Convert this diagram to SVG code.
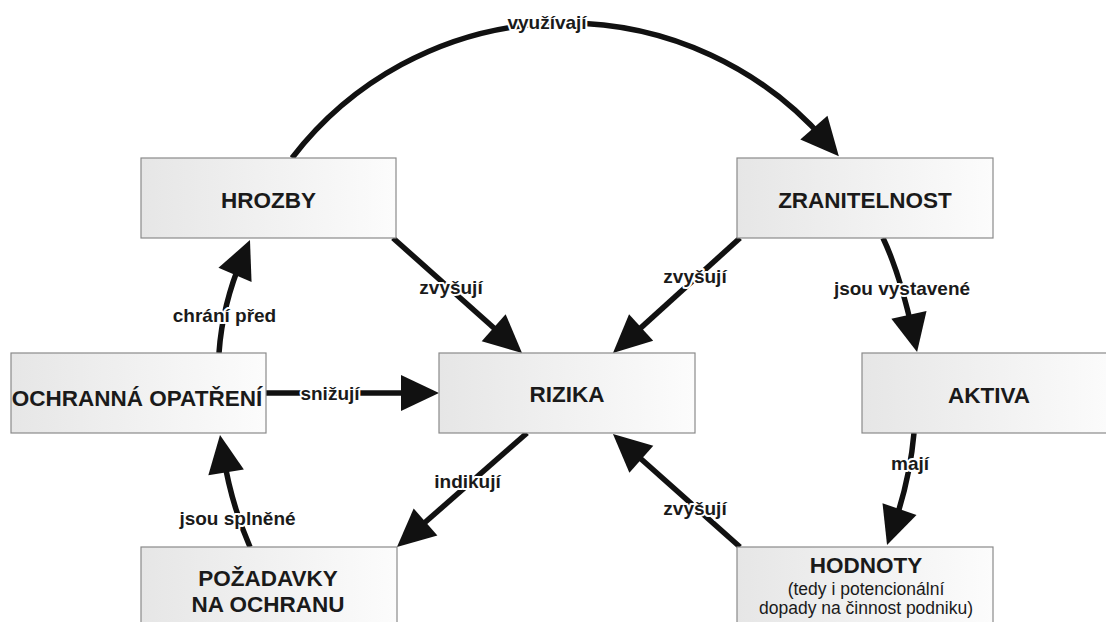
<svg xmlns="http://www.w3.org/2000/svg" width="1106" height="622" viewBox="0 0 1106 622">
  <defs>
    <linearGradient id="boxFill" x1="0" y1="0" x2="1" y2="0">
      <stop offset="0" stop-color="#e6e6e6"/>
      <stop offset="1" stop-color="#fcfcfc"/>
    </linearGradient>
    <marker id="arrow" markerUnits="userSpaceOnUse" markerWidth="40" markerHeight="38" refX="18" refY="18" orient="auto" overflow="visible">
      <path d="M0,0 L38,18 L0,36 Z" fill="#111"/>
    </marker>
    <style>
      .box { fill: url(#boxFill); stroke: #8a8a8a; stroke-width: 1.2; }
      .title { font-family: "Liberation Sans", Arial, sans-serif; font-weight: bold; font-size: 22.5px; fill: #1a1a1a; text-anchor: middle; }
      .sub { font-family: "Liberation Sans", Arial, sans-serif; font-size: 17.5px; fill: #1a1a1a; text-anchor: middle; }
      .link { fill: none; stroke: #111; stroke-width: 5.5; marker-end: url(#arrow); }
      .label { font-family: "Liberation Sans", Arial, sans-serif; font-weight: bold; font-size: 19px; fill: #1a1a1a; text-anchor: middle; stroke: #fff; stroke-width: 4; stroke-linejoin: round; paint-order: stroke fill; }
    </style>
  </defs>

  <rect width="1106" height="622" fill="#fff"/>

  <!-- connectors -->
  <g id="connectors">
    <path class="link" d="M292,158 A345,345 0 0 1 825.7,141.2"/>
    <path class="link" d="M393,238 L507.1,339.7"/>
    <path class="link" d="M740,238 L627.8,339.6"/>
    <path class="link" d="M883,238 Q900,274 912.8,332.4"/>
    <path class="link" d="M219,353 Q222.4,304.4 242.1,258.4"/>
    <path class="link" d="M266,393 L419,393"/>
    <path class="link" d="M527,433 L412,533.8"/>
    <path class="link" d="M250,547 Q231.2,504 223.2,454.7"/>
    <path class="link" d="M740,547 L627.9,447.3"/>
    <path class="link" d="M914,433 Q910,478.9 893.6,526.1"/>
  </g>

  <!-- connector labels -->
  <g id="labels">
    <text class="label" x="547" y="29">využívají</text>
    <text class="label" x="451" y="294">zvyšují</text>
    <text class="label" x="695" y="283">zvyšují</text>
    <text class="label" x="902" y="295">jsou vystavené</text>
    <text class="label" x="224.5" y="322">chrání před</text>
    <text class="label" x="330" y="400">snižují</text>
    <text class="label" x="467.5" y="488">indikují</text>
    <text class="label" x="237.5" y="525">jsou splněné</text>
    <text class="label" x="695" y="515">zvyšují</text>
    <text class="label" x="910" y="470">mají</text>
  </g>

  <!-- nodes -->
  <g id="hrozby">
    <rect class="box" x="141" y="158" width="255" height="80"/>
    <text class="title" x="268.5" y="208">HROZBY</text>
  </g>
  <g id="zranitelnost">
    <rect class="box" x="737" y="158" width="256" height="80"/>
    <text class="title" x="865" y="208">ZRANITELNOST</text>
  </g>
  <g id="ochranna-opatreni">
    <rect class="box" x="11" y="353" width="255" height="80"/>
    <text class="title" x="137" y="406">OCHRANNÁ OPATŘENÍ</text>
  </g>
  <g id="rizika">
    <rect class="box" x="439" y="353" width="256" height="80"/>
    <text class="title" x="567" y="402">RIZIKA</text>
  </g>
  <g id="aktiva">
    <rect class="box" x="862" y="353" width="256" height="80"/>
    <text class="title" x="989" y="403">AKTIVA</text>
  </g>
  <g id="pozadavky">
    <rect class="box" x="141" y="547" width="256" height="90"/>
    <text class="title" x="268" y="585.5">POŽADAVKY</text>
    <text class="title" x="268" y="611.5">NA OCHRANU</text>
  </g>
  <g id="hodnoty">
    <rect class="box" x="737" y="547" width="256" height="90"/>
    <text class="title" x="866" y="572.5">HODNOTY</text>
    <text class="sub" x="866" y="595">(tedy i potencionální</text>
    <text class="sub" x="866" y="614">dopady na činnost podniku)</text>
  </g>
</svg>
